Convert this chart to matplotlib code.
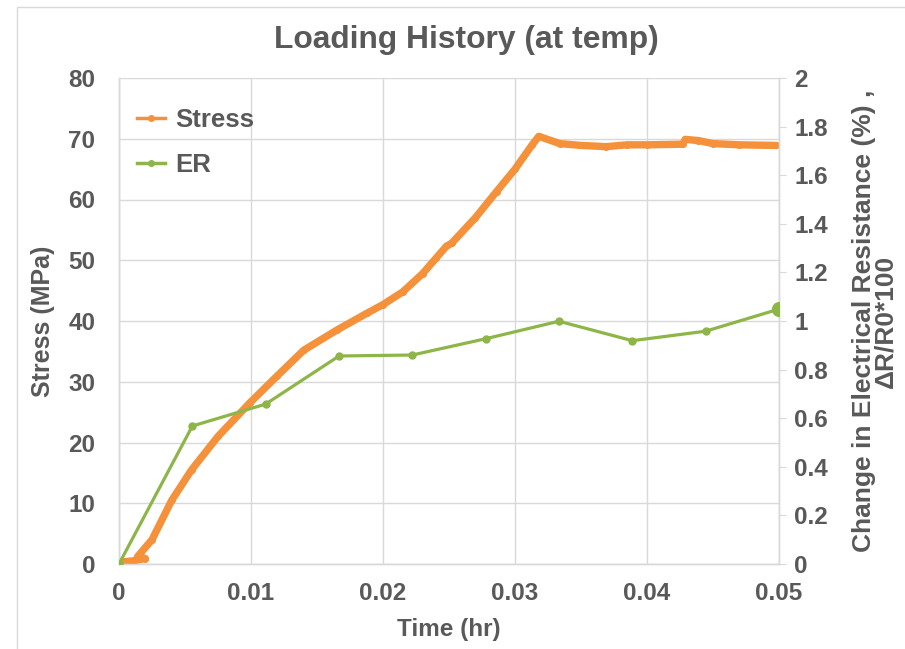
import matplotlib
matplotlib.use("Agg")
import matplotlib.pyplot as plt
from matplotlib.patches import Rectangle

plt.rcParams['font.family'] = ['Liberation Sans', 'DejaVu Sans']
plt.rcParams['font.weight'] = 'bold'
plt.rcParams['axes.labelweight'] = 'bold'

# Stress data (Time hr, Stress MPa)
stress_t = [0.0000, 0.0010, 0.0020, 0.0014, 0.0025, 0.0040, 0.0055, 0.0075, 0.0099,
            0.0120, 0.0140, 0.0165, 0.0188, 0.0200, 0.0215, 0.0230, 0.0240, 0.0248,
            0.0252, 0.0270, 0.0286, 0.0300, 0.0313, 0.0318, 0.0334, 0.0350, 0.0369,
            0.0385, 0.0400, 0.0427, 0.0429, 0.0439, 0.0450, 0.0470, 0.0498]
stress_v = [0.3, 0.5, 0.9, 1.2, 4.0, 10.5, 15.5, 21.0, 26.5,
            31.0, 35.2, 38.5, 41.3, 42.7, 44.8, 47.8, 50.3, 52.3,
            52.8, 57.0, 61.3, 65.0, 69.0, 70.4, 69.2, 68.9, 68.7,
            69.0, 69.0, 69.1, 69.9, 69.7, 69.2, 69.0, 68.9]

# Electrical resistance data (Time hr, dR/R0*100)
er_t = [0.0, 0.00556, 0.01111, 0.01667, 0.02222, 0.02778, 0.03333, 0.03889, 0.04444, 0.05]
er_v = [0.0, 0.568, 0.658, 0.856, 0.860, 0.927, 0.999, 0.919, 0.958, 1.049]

x_ticks = [0, 0.01, 0.02, 0.03, 0.04, 0.05]
x_labels = ['0', '0.01', '0.02', '0.03', '0.04', '0.05']
y_ticks = [0, 10, 20, 30, 40, 50, 60, 70, 80]
y2_ticks = [0, 0.2, 0.4, 0.6, 0.8, 1, 1.2, 1.4, 1.6, 1.8, 2]
y2_labels = ['0', '0.2', '0.4', '0.6', '0.8', '1', '1.2', '1.4', '1.6', '1.8', '2']

orange = '#F4913A'
green = '#8DB548'
txt = '#595959'
grid = '#D9D9D9'

fig = plt.figure(figsize=(9.05, 6.49), dpi=100)
fig.patches.append(Rectangle((17/905, -0.1), 1.2, 1 - 7/649 + 0.1, transform=fig.transFigure,
                             fill=False, edgecolor='#D9D9D9', lw=1))
ax = fig.add_axes([119/905, 1 - 564/649, 660/905, 486/649])
ax2 = ax.twinx()

ax.set_xlim(0, 0.05)
ax.set_ylim(0, 80)
ax2.set_ylim(0, 2)

ax.set_xticks(x_ticks)
ax.set_xticklabels(x_labels)
ax.set_yticks(y_ticks)
ax2.set_yticks(y2_ticks)
ax2.set_yticklabels(y2_labels)

ax.grid(True, color=grid, lw=1)
ax.set_axisbelow(True)
for a in (ax, ax2):
    a.spines['top'].set_visible(False)
    for sp in ['left', 'right', 'bottom']:
        a.spines[sp].set_color(grid)
        a.spines[sp].set_linewidth(1)

ax.tick_params(axis='y', length=0, labelsize=17.5, labelcolor=txt, pad=17)
ax.tick_params(axis='x', length=0, labelsize=17.5, labelcolor=txt, pad=13)
ax2.tick_params(axis='y', length=5, color=grid, labelsize=17.5, labelcolor=txt, pad=6)

ax.plot(stress_t, stress_v, color=orange, lw=5.3, marker='o', ms=4,
        solid_capstyle='round', solid_joinstyle='round', zorder=3)
ax2.plot(er_t, er_v, color=green, lw=2.3, marker='o', ms=5, zorder=3)
ax2.plot([er_t[-1]], [er_v[-1]], 'o', color=green, ms=10, zorder=4)

ax.set_xlabel('Time (hr)', fontsize=17.5, color=txt, labelpad=9, fontweight='bold')
ax.set_ylabel('Stress (MPa)', fontsize=18, color=txt, labelpad=10, fontweight='bold')
ax2.set_ylabel('Change in Electrical Resistance (%) ,\n\u0394R/R0*100', fontsize=19,
               color=txt, labelpad=17.5, linespacing=0.85, fontweight='bold')
fig.text(466/905, 1 - 40/649, 'Loading History (at temp)',
         fontsize=22.9, color=txt, ha='center', va='center', fontweight='bold')

h1 = plt.Line2D([], [], color=orange, lw=2.5, marker='o', ms=4)
h2 = plt.Line2D([], [], color=green, lw=2.5, marker='o', ms=4)
leg = ax.legend([h1, h2], ['Stress', 'ER'], loc='upper left', bbox_to_anchor=(0.027, 0.938),
                frameon=False, fontsize=18.5, handlelength=1.1, labelspacing=0.83,
                handletextpad=0.4, borderaxespad=0, borderpad=0)
for t in leg.get_texts():
    t.set_color(txt)
    t.set_fontweight('bold')

fig.savefig('out.png', dpi=100)
